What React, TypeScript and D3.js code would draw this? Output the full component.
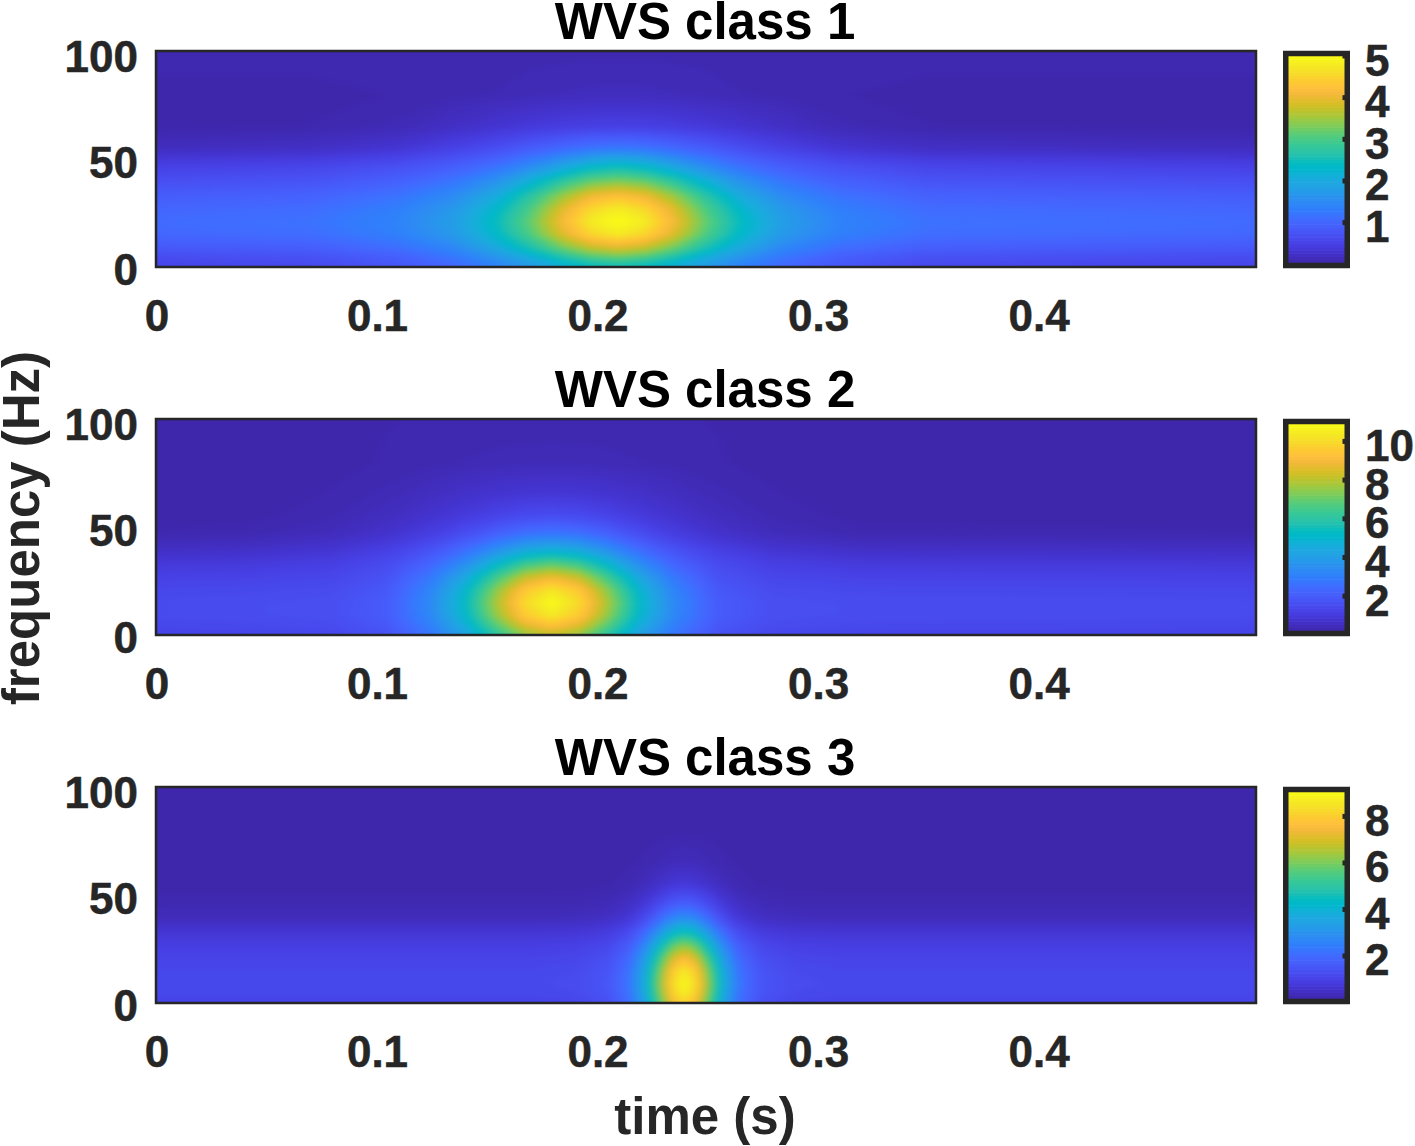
import React from "react";
import * as d3 from "d3";

const parula: number[][] = [
  [0.2422,0.1504,0.6603],[0.2504,0.165,0.7076],[0.2578,0.1818,0.7511],[0.2647,0.1978,0.7952],
  [0.2706,0.2147,0.8364],[0.2751,0.2342,0.871],[0.2783,0.2559,0.8991],[0.2803,0.2782,0.9221],
  [0.2813,0.3006,0.9414],[0.281,0.3228,0.9579],[0.2795,0.3447,0.9717],[0.276,0.3667,0.9829],
  [0.2699,0.3892,0.9906],[0.2602,0.4123,0.9952],[0.244,0.4358,0.9988],[0.2206,0.4603,0.9973],
  [0.1963,0.4847,0.9892],[0.1834,0.5074,0.9798],[0.1786,0.5289,0.9682],[0.1764,0.5499,0.952],
  [0.1687,0.5703,0.9359],[0.154,0.5902,0.9218],[0.146,0.6091,0.9079],[0.138,0.6276,0.8973],
  [0.1248,0.6459,0.8883],[0.1113,0.6635,0.8763],[0.0952,0.6798,0.8598],[0.0689,0.6948,0.8394],
  [0.0297,0.7082,0.8163],[0.0036,0.7203,0.7917],[0.0067,0.7312,0.766],[0.0433,0.7411,0.7394],
  [0.0964,0.75,0.712],[0.1408,0.7584,0.6842],[0.1717,0.767,0.6554],[0.1938,0.7758,0.6251],
  [0.2161,0.7843,0.5923],[0.247,0.7918,0.5567],[0.2906,0.7973,0.5188],[0.3406,0.8008,0.4789],
  [0.3909,0.8029,0.4354],[0.4456,0.8024,0.3909],[0.5044,0.7993,0.348],[0.5616,0.7942,0.3045],
  [0.6174,0.7876,0.2612],[0.672,0.7793,0.2227],[0.7242,0.7698,0.191],[0.7738,0.7598,0.1646],
  [0.8203,0.7498,0.1535],[0.8634,0.7406,0.1596],[0.9035,0.733,0.1774],[0.9393,0.7288,0.21],
  [0.9728,0.7298,0.2394],[0.9956,0.7434,0.2371],[0.997,0.7659,0.2199],[0.9952,0.7861,0.1963],
  [0.9892,0.8136,0.1885],[0.9786,0.8386,0.1766],[0.9676,0.8639,0.1643],[0.961,0.889,0.1537],
  [0.9597,0.9135,0.1423],[0.9628,0.9373,0.1265],[0.9691,0.9606,0.1064],[0.9769,0.9839,0.0805],
];

const xTicks = [0, 0.1, 0.2, 0.3, 0.4];
const yTicks = [0, 50, 100];
const frequencies = [100, 80, 65, 55, 47, 40, 33, 27, 21, 15, 9, 4, 0];

const times1 = [0,.07,.11,.135,.155,.17,.185,.1975,.21,.2225,.235,.25,.265,.285,.31,.35,.5];
const domain1: [number, number] = [0.03, 5.0];
const barTicks1 = [1, 2, 3, 4, 5];
const values1 = [
  [.08,.08,.08,.08,.08,.09,.09,.09,.09,.09,.09,.09,.08,.08,.08,.08,.08],
  [.06,.06,.07,.09,.11,.13,.15,.16,.16,.16,.15,.13,.11,.09,.07,.06,.06],
  [.05,.07,.12,.22,.31,.38,.44,.47,.48,.47,.44,.38,.31,.22,.12,.07,.05],
  [.18,.22,.33,.50,.68,.88,1.05,1.20,1.25,1.20,1.05,.88,.68,.50,.33,.22,.18],
  [.48,.54,.69,.88,1.15,1.48,1.90,2.25,2.40,2.25,1.90,1.48,1.15,.88,.69,.54,.48],
  [.68,.75,.94,1.20,1.62,2.15,2.75,3.15,3.30,3.15,2.75,2.15,1.62,1.20,.94,.75,.68],
  [.88,.96,1.18,1.50,2.05,2.72,3.50,4.05,4.25,4.05,3.50,2.72,2.05,1.50,1.18,.96,.88],
  [1.01,1.09,1.33,1.70,2.32,3.02,3.95,4.55,4.80,4.55,3.95,3.02,2.32,1.70,1.33,1.09,1.01],
  [1.08,1.17,1.40,1.80,2.45,3.18,4.14,4.80,5.00,4.80,4.14,3.18,2.45,1.80,1.40,1.17,1.08],
  [1.03,1.11,1.35,1.72,2.35,3.04,3.92,4.52,4.78,4.52,3.92,3.04,2.35,1.72,1.35,1.11,1.03],
  [.83,.91,1.13,1.46,2.02,2.60,3.28,3.75,3.95,3.75,3.28,2.60,2.02,1.46,1.13,.91,.83],
  [.63,.70,.90,1.20,1.62,2.05,2.58,2.95,3.10,2.95,2.58,2.05,1.62,1.20,.90,.70,.63],
  [.53,.59,.77,1.02,1.36,1.70,2.07,2.34,2.45,2.34,2.07,1.70,1.36,1.02,.77,.59,.53],
];

const times2 = [0,.04,.08,.105,.125,.14,.155,.1675,.18,.1925,.205,.22,.235,.255,.28,.32,.5];
const domain2: [number, number] = [0.2, 10.9];
const barTicks2 = [2, 4, 6, 8, 10];
const values2 = [
  [.28,.28,.28,.28,.29,.29,.30,.30,.30,.30,.30,.29,.29,.28,.28,.28,.28],
  [.24,.24,.26,.29,.33,.37,.40,.41,.42,.41,.40,.37,.33,.29,.26,.24,.24],
  [.22,.23,.29,.40,.55,.68,.80,.87,.90,.87,.80,.68,.55,.40,.29,.23,.22],
  [.22,.24,.35,.53,.78,1.02,1.30,1.49,1.57,1.49,1.30,1.02,.78,.53,.35,.24,.22],
  [.30,.33,.47,.73,1.10,1.57,2.17,2.60,2.77,2.60,2.17,1.57,1.10,.73,.47,.33,.30],
  [.58,.62,.80,1.13,1.67,2.43,3.46,4.24,4.56,4.24,3.46,2.43,1.67,1.13,.80,.62,.58],
  [.95,.98,1.15,1.50,2.31,3.46,5.09,6.34,6.85,6.34,5.09,3.46,2.31,1.50,1.15,.98,.95],
  [1.20,1.24,1.35,1.70,2.83,4.31,6.46,8.13,8.81,8.13,6.46,4.31,2.83,1.70,1.35,1.24,1.20],
  [1.38,1.42,1.50,1.90,3.20,4.93,7.49,9.48,10.3,9.48,7.49,4.93,3.20,1.90,1.50,1.42,1.38],
  [1.48,1.52,1.60,2.00,3.36,5.20,7.91,10.01,10.88,10.01,7.91,5.20,3.36,2.00,1.60,1.52,1.48],
  [1.48,1.52,1.60,2.00,3.30,5.03,7.59,9.58,10.4,9.58,7.59,5.03,3.30,2.00,1.60,1.52,1.48],
  [1.38,1.42,1.50,1.85,3.04,4.57,6.81,8.54,9.25,8.54,6.81,4.57,3.04,1.85,1.50,1.42,1.38],
  [1.27,1.31,1.38,1.72,2.77,4.08,5.99,7.45,8.05,7.45,5.99,4.08,2.77,1.72,1.38,1.31,1.27],
];

const times3 = [0,.17,.19,.205,.215,.2225,.2285,.2345,.24,.2455,.2515,.2575,.265,.275,.29,.31,.5];
const domain3: [number, number] = [0.15, 9.05];
const barTicks3 = [2, 4, 6, 8];
const values3 = [
  [.20,.20,.20,.20,.20,.20,.20,.20,.20,.20,.20,.20,.20,.20,.20,.20,.20],
  [.17,.17,.17,.17,.17,.18,.18,.19,.19,.19,.18,.18,.17,.17,.17,.17,.17],
  [.17,.17,.17,.18,.20,.24,.30,.36,.38,.36,.30,.24,.20,.18,.17,.17,.17],
  [.17,.17,.18,.20,.27,.40,.56,.72,.78,.72,.56,.40,.27,.20,.18,.17,.17],
  [.25,.25,.26,.31,.45,.73,1.10,1.46,1.60,1.46,1.10,.73,.45,.31,.26,.25,.25],
  [.35,.35,.37,.46,.70,1.20,1.87,2.53,2.78,2.53,1.87,1.20,.70,.46,.37,.35,.35],
  [.68,.68,.71,.84,1.22,2.02,3.08,4.12,4.53,4.12,3.08,2.02,1.22,.84,.71,.68,.68],
  [.91,.91,.95,1.12,1.64,2.74,4.19,5.63,6.18,5.63,4.19,2.74,1.64,1.12,.95,.91,.91],
  [1.04,1.04,1.09,1.31,1.96,3.34,5.15,6.94,7.64,6.94,5.15,3.34,1.96,1.31,1.09,1.04,1.04],
  [1.13,1.13,1.19,1.44,2.18,3.76,5.83,7.89,8.68,7.89,5.83,3.76,2.18,1.44,1.19,1.13,1.13],
  [1.17,1.17,1.23,1.49,2.27,3.92,6.09,8.24,9.05,8.24,6.09,3.92,2.27,1.49,1.23,1.17,1.17],
  [1.13,1.13,1.19,1.44,2.20,3.79,5.90,7.98,8.78,7.98,5.90,3.79,2.20,1.44,1.19,1.13,1.13],
  [1.04,1.04,1.09,1.33,2.03,3.53,5.49,7.43,8.18,7.43,5.49,3.53,2.03,1.33,1.09,1.04,1.04],
];

const FONT = "'Liberation Sans', Arial, sans-serif";
const INK = "#262626";
const PLOT_LEFT = 155;
const PLOT_RIGHT = 1256;
const LEVELS = 128;

const paletteStops = parula.map(([r, g, b]) => d3.rgb(r * 255, g * 255, b * 255).formatHex());

function makeColor(domain: [number, number]) {
  const stepDomain = paletteStops.map((_, i) => domain[0] + (domain[1] - domain[0]) * (i / (paletteStops.length - 1)));
  return d3.scaleLinear<string>().domain(stepDomain).range(paletteStops).interpolate(d3.interpolateRgb).clamp(true);
}

const tickText = { fontFamily: FONT, fontWeight: "bold", fontSize: 44, fill: INK, stroke: INK, strokeWidth: 0.5 };
const labelText = { fontFamily: FONT, fontWeight: "bold", fontSize: 51, textAnchor: "middle" };

function Panel({ idx, title, times, values, domain, barTicks, top }: {
  idx: number; title: string; times: number[]; values: number[][];
  domain: [number, number]; barTicks: number[]; top: number;
}) {
  const bottom = top + 216;
  const x = d3.scaleLinear().domain([0, 0.4993]).range([PLOT_LEFT, PLOT_RIGHT]);
  const y = d3.scaleLinear().domain([0, 100]).range([bottom, top]);
  const color = makeColor(domain);

  const n = times.length, m = frequencies.length;
  const gridX = d3.scaleLinear().domain(times.map((_, i) => i + 0.5)).range(times).clamp(true);
  const gridY = d3.scaleLinear().domain(frequencies.map((_, i) => i + 0.5)).range(frequencies).clamp(true);
  const path = d3.geoPath(d3.geoTransform({
    point(px: number, py: number) {
      (this as any).stream.point(x(gridX(px)), y(gridY(py)));
    },
  }));
  const thresholds = d3.range(LEVELS).map(i => domain[0] + (domain[1] - domain[0]) * (i / LEVELS));
  const contours = d3.contours().size([n, m]).smooth(true).thresholds(thresholds)(values.flat());
  const bands = contours.map((c, i) => (
    <path key={i} d={path(c as any) || ""} fill={color(c.value + (domain[1] - domain[0]) / (2 * LEVELS))} />
  ));

  const barY = d3.scaleLinear().domain(domain).range([top + 212, top + 5]);
  const barSteps = d3.range(64).map(i => domain[0] + (domain[1] - domain[0]) * (i / 64));
  const stepSize = (domain[1] - domain[0]) / 64;

  return (
    <g>
      <defs>
        <clipPath id={`clip${idx}`}>
          <rect x={PLOT_LEFT} y={top} width={PLOT_RIGHT - PLOT_LEFT} height={216} />
        </clipPath>
        <filter id={`soft${idx}`} filterUnits="userSpaceOnUse" x={PLOT_LEFT - 30} y={top - 30}
          width={PLOT_RIGHT - PLOT_LEFT + 60} height={276} colorInterpolationFilters="sRGB">
          <feGaussianBlur stdDeviation="4 2.5" />
        </filter>
      </defs>
      <g clipPath={`url(#clip${idx})`}>
        <rect x={PLOT_LEFT} y={top} width={PLOT_RIGHT - PLOT_LEFT} height={216} fill={color(domain[0])} />
        <g>{bands}</g>
        <g filter={`url(#soft${idx})`}>{bands}</g>
      </g>
      <rect x={PLOT_LEFT + 1} y={top} width={PLOT_RIGHT - PLOT_LEFT - 1} height={216}
        fill="none" stroke={INK} strokeWidth={2.5} />
      {yTicks.map(t => (
        <text key={t} x={138} y={y(t) + (t === 100 ? 20.5 : t === 50 ? 19 : 18)} textAnchor="end" {...tickText}>{t}</text>
      ))}
      {xTicks.map(t => (
        <text key={t} x={x(t) + 2} y={bottom + 64} textAnchor="middle" {...tickText}>{t}</text>
      ))}
      <text x={705} y={top - 12} {...labelText} fill="#000">{title}</text>

      {barSteps.map((v, i) => (
        <rect key={i} x={1287} y={barY(v + stepSize)} width={58}
          height={barY(v) - barY(v + stepSize) + 0.6} fill={color(v + stepSize / 2)} />
      ))}
      <rect x={1285.75} y={top + 2.5} width={61.5} height={212} fill="none" stroke={INK} strokeWidth={5.5} />
      {barTicks.map(t => (
        <g key={t}>
          <rect x={1342.5} y={barY(t) - 2.5} width={4} height={5} fill={INK} />
          <text x={1365} y={barY(t) + 19.5} {...tickText}>{t}</text>
        </g>
      ))}
    </g>
  );
}

export default function App() {
  return (
    <svg width={1415} height={1146} viewBox="0 0 1415 1146"
      style={{ position: "absolute", left: 0, top: 0, display: "block", background: "#fff" }}>
      <Panel idx={1} title="WVS class 1" times={times1} values={values1} domain={domain1} barTicks={barTicks1} top={51} />
      <Panel idx={2} title="WVS class 2" times={times2} values={values2} domain={domain2} barTicks={barTicks2} top={419} />
      <Panel idx={3} title="WVS class 3" times={times3} values={values3} domain={domain3} barTicks={barTicks3} top={787} />
      <text x={705} y={1134} {...labelText} fill={INK}>time (s)</text>
      <text transform="translate(39,528) rotate(-90)" {...labelText} fill={INK}>frequency (Hz)</text>
    </svg>
  );
}
